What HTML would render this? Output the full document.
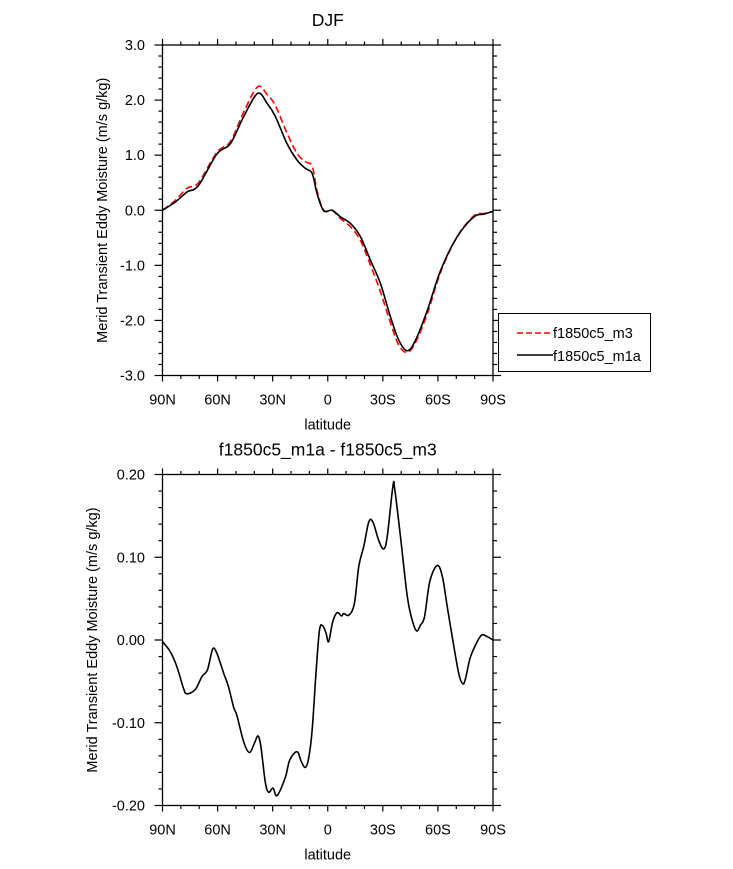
<!DOCTYPE html>
<html><head><meta charset="utf-8">
<style>
html,body{margin:0;padding:0;background:#fff;}
svg{display:block;font-family:"Liberation Sans","DejaVu Sans",sans-serif;}
</style></head>
<body>
<svg id="chart" width="733" height="869" viewBox="0 0 733 869" xmlns="http://www.w3.org/2000/svg">
</svg>
<script>
// Top panel data
const topLats = [90,83,76.7,70.4,60.4,53,45.8,38.2,33,28.5,22.2,16.7,12.2,8.5,5.8,2.2,-2.4,-6.9,-12.4,-17.8,-23.3,-28.7,-34.2,-38.7,-43.3,-47.8,-54.2,-61.5,-70.5,-79.6,-85,-90];
const m1aValues = [0,0.15,0.33,0.45,1.02,1.21,1.70,2.12,1.94,1.70,1.21,0.91,0.76,0.67,0.30,-0.01,0,-0.12,-0.24,-0.48,-0.91,-1.33,-1.94,-2.36,-2.55,-2.36,-1.82,-1.09,-0.48,-0.12,-0.07,-0.02];
const m3Values = [0,0.18,0.40,0.50,1.05,1.25,1.78,2.24,2.10,1.90,1.40,1.03,0.88,0.80,0.35,0,0,-0.15,-0.30,-0.55,-1.00,-1.48,-2.05,-2.45,-2.58,-2.40,-1.88,-1.12,-0.48,-0.10,-0.06,-0.02];
const topYTicks = [3.0,2.0,1.0,0.0,-1.0,-2.0,-3.0];
const topYLabels = ["3.0","2.0","1.0","0.0","-1.0","-2.0","-3.0"];
// Bottom panel data
const diffLats = [90,85.8,82.2,78.5,76.7,72.2,68.5,65.5,62.7,60.4,56.7,54,51.3,49.5,45.8,42.7,40,38,36.4,34,32.2,29.8,27.6,23.1,20.7,16.7,14.4,12.2,10.4,8.5,6.4,4.5,2.7,0.9,-0.5,-2.7,-5.1,-7.5,-8.7,-11.5,-14.5,-16.9,-19.6,-22.4,-24.7,-27.8,-30.5,-32.4,-35.5,-36.5,-39.6,-43.3,-46,-48.4,-50.5,-52.7,-55.6,-59.6,-62.4,-65.1,-68.7,-71.5,-73.6,-75.1,-77.5,-80.5,-83.8,-86.9,-90];
const diffValues = [-0.002,-0.014,-0.032,-0.059,-0.065,-0.060,-0.044,-0.036,-0.011,-0.016,-0.040,-0.057,-0.081,-0.091,-0.123,-0.136,-0.125,-0.116,-0.129,-0.172,-0.184,-0.179,-0.188,-0.166,-0.145,-0.135,-0.147,-0.154,-0.143,-0.109,-0.040,0.012,0.017,0.008,-0.002,0.022,0.033,0.029,0.032,0.030,0.044,0.089,0.113,0.143,0.142,0.120,0.110,0.125,0.186,0.182,0.125,0.053,0.024,0.011,0.018,0.028,0.071,0.090,0.077,0.040,-0.008,-0.042,-0.053,-0.046,-0.022,-0.006,0.006,0.004,0];
const botYTicks = [0.2,0.1,0,-0.1,-0.2];
const botYLabels = ["0.20","0.10","0.00","-0.10","-0.20"];
const xTicks = [90,60,30,0,-30,-60,-90];
const xLabels = ["90N","60N","30N","0","30S","60S","90S"];

const NS="http://www.w3.org/2000/svg";
const svg=document.getElementById('chart');
function mk(tag,attrs,parent){const e=document.createElementNS(NS,tag);for(const k in attrs)e.setAttribute(k,attrs[k]);(parent||svg).appendChild(e);return e;}
function txt(s,attrs,parent){const e=mk('text',attrs,parent);e.textContent=s;return e;}
function smoothPath(pts){
  let d='M'+pts[0][0].toFixed(2)+','+pts[0][1].toFixed(2);
  for(let i=0;i<pts.length-1;i++){
    const p0=pts[i-1]||pts[i],p1=pts[i],p2=pts[i+1],p3=pts[i+2]||p2;
    const c1=[p1[0]+(p2[0]-p0[0])/6,p1[1]+(p2[1]-p0[1])/6];
    const c2=[p2[0]-(p3[0]-p1[0])/6,p2[1]-(p3[1]-p1[1])/6];
    d+=' C'+c1[0].toFixed(2)+','+c1[1].toFixed(2)+' '+c2[0].toFixed(2)+','+c2[1].toFixed(2)+' '+p2[0].toFixed(2)+','+p2[1].toFixed(2);
  }
  return d;
}
function panel(name,top,bottom,ymax,ymin,yTicks,yLabels,minorStep,title){
  const L=162.5,R=493;
  const g=mk('g',{});
  
  
  const xs=lat=>L+(90-lat)/180*(R-L);
  const ys=v=>top+(ymax-v)/(ymax-ymin)*(bottom-top);
  const ax=mk('g',{stroke:'#000','stroke-width':1.2},g);
  
  
  for(let lat=90;lat>=-90;lat-=10){
    const major=lat%30===0, len=major?6:3.5, x=xs(lat);
    mk('line',{x1:x,x2:x,y1:bottom,y2:bottom+len},ax);
    mk('line',{x1:x,x2:x,y1:top,y2:top-len},ax);
  }
  const n=Math.round((ymax-ymin)/minorStep);
  for(let i=0;i<=n;i++){
    const v=ymax-i*minorStep, y=ys(v);
    const major=i%5===0, len=major?8:4;
    mk('line',{x1:L,x2:L-len,y1:y,y2:y},ax);
    mk('line',{x1:R,x2:R+len,y1:y,y2:y},ax);
  }
  const frame=mk('rect',{x:L,y:top,width:R-L,height:bottom-top,fill:'none',stroke:'#000','stroke-width':1.3},g);
  
  
  xTicks.forEach((t,i)=>{
    const e=txt(xLabels[i],{x:xs(t),y:bottom+29,'font-size':14.5,'text-anchor':'middle'},g);
    
    
  });
  yTicks.forEach((t,i)=>{
    const e=txt(yLabels[i],{x:145,y:ys(t)+5,'font-size':14.5,'text-anchor':'end'},g);
    
    
  });
  const xt=txt('latitude',{x:(L+R)/2,y:bottom+54,'font-size':14.5,'text-anchor':'middle'},g);
  
  
  const cy=(top+bottom)/2;
  const yt=txt('Merid Transient Eddy Moisture (m/s g/kg)',{x:0,y:0,'font-size':14.5,'text-anchor':'middle',transform:'translate('+(name==='top-panel'?107:97)+','+cy+') rotate(-90)'},g);
  
  
  const tt=txt(title,{x:(L+R)/2,y:top-19,'font-size':17.5,'text-anchor':'middle'},g);
  
  
  return {g,xs,ys};
}
const p1=panel('top-panel',45,375.5,3,-3,topYTicks,topYLabels,0.2,'DJF');
const red=mk('path',{d:smoothPath(topLats.map((l,i)=>[p1.xs(l),p1.ys(m3Values[i])])),fill:'none',stroke:'#f00','stroke-width':1.6,'stroke-dasharray':'7,3.5'},p1.g);


const blk=mk('path',{d:smoothPath(topLats.map((l,i)=>[p1.xs(l),p1.ys(m1aValues[i])])),fill:'none',stroke:'#000','stroke-width':1.6},p1.g);


const lg=mk('g',{});


mk('rect',{x:498.5,y:313.5,width:152,height:58,fill:'#fff',stroke:'#000','stroke-width':1},lg);
const e1=mk('g',{},lg);


mk('line',{x1:517,x2:553,y1:333,y2:333,stroke:'#f00','stroke-width':1.5,'stroke-dasharray':'6,3'},e1);
txt('f1850c5_m3',{x:553,y:338,'font-size':14.5},e1);
const e2=mk('g',{},lg);


mk('line',{x1:517,x2:553,y1:355,y2:355,stroke:'#000','stroke-width':1.5},e2);
txt('f1850c5_m1a',{x:553,y:361,'font-size':14.5},e2);
const p2=panel('bottom-panel',474.5,805.5,0.2,-0.2,botYTicks,botYLabels,0.02,'f1850c5_m1a - f1850c5_m3');
const dl=mk('path',{d:smoothPath(diffLats.map((l,i)=>[p2.xs(l),p2.ys(diffValues[i])])),fill:'none',stroke:'#000','stroke-width':1.6},p2.g);


</script>
</body></html>
